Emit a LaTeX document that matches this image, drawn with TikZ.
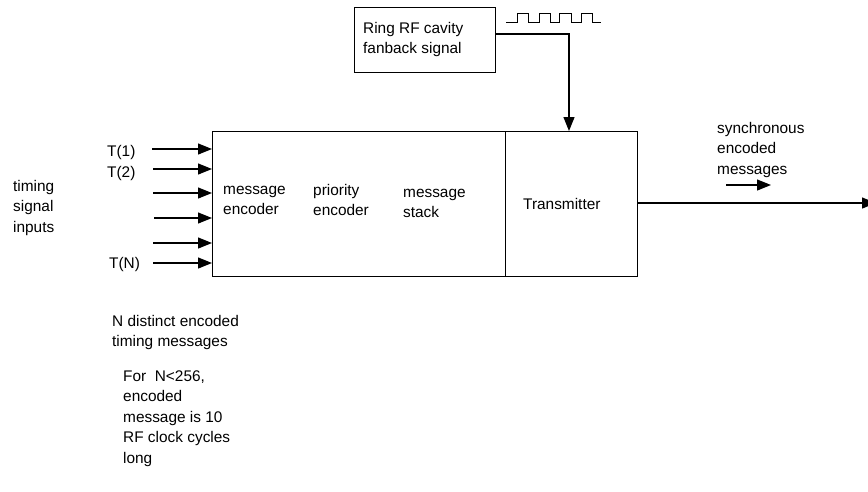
\documentclass[tikz,border=0pt]{standalone}
\usepackage{fontspec}
\setmainfont{Liberation Sans}
\usetikzlibrary{arrows.meta}
\begin{document}
\begin{tikzpicture}[x=1pt,y=-1pt,
  box/.style={draw,line width=1.2pt,inner sep=0pt,anchor=north west},
  lbl/.style={anchor=base west,inner sep=0pt,font=\fontsize{15.4}{20.5}\selectfont,align=left},
  arr/.style={line width=1.2pt,-{Triangle[length=14pt,width=11pt]}},
  wire/.style={line width=1.2pt},
  wave/.style={line width=1pt}]
\useasboundingbox (0,0) rectangle (868,491);
\clip (0,0) rectangle (868,491);

% boxes
\node[box,minimum width=141pt,minimum height=65pt] (ring) at (354,7) {};
\node[box,minimum width=293pt,minimum height=145pt] (enc) at (212,131) {};
\node[box,minimum width=132pt,minimum height=145pt] (tx) at (505,131) {};

% texts (base anchor = baseline of last line)
\node[lbl] (ringt) at (363,53.5) {Ring RF cavity\\fanback signal};
\node[lbl] (txt) at (523,209) {Transmitter};
\node[lbl] (me) at (223,214.5) {message\\encoder};
\node[lbl] (pe) at (313,215.5) {priority\\encoder};
\node[lbl] (ms) at (403,217.5) {message\\stack};
\node[lbl] (sync) at (717,174) {synchronous\\encoded\\messages};
\node[lbl] (tsi) at (13,232) {timing\\signal\\inputs};
\node[lbl] (t1) at (107,156) {T(1)};
\node[lbl] (t2) at (107,177) {T(2)};
\node[lbl] (tn) at (109,268) {T(N)};
\node[lbl] (nd) at (112,346.5) {N distinct encoded\\timing messages};
\node[lbl] (note) at (123,463) {For\ \ N<256,\\encoded\\message is 10\\RF clock cycles\\long};

% input arrows
\coordinate (i1) at (152,149);
\coordinate (i2) at (153,169);
\coordinate (i3) at (153,193);
\coordinate (i4) at (154,218);
\coordinate (i5) at (153,243);
\coordinate (i6) at (153,263);
\foreach \c in {i1,i2,i3,i4,i5,i6}
  \draw[arr] (\c) -- (\c -| enc.west);

% RF fanback connector
\coordinate (rfj) at (569,34);
\draw[arr] (ring.east |- rfj) -| (rfj |- tx.north);

% square wave
\draw[wave] (506,22) -- (517,22) -- (517,13) -- (528,13) -- (528,22) -- (539,22)
  -- (539,13) -- (550,13) -- (550,22) -- (559,22) -- (559,13) -- (571,13)
  -- (571,22) -- (581,22) -- (581,13) -- (592,13) -- (592,22) -- (601,22);

% output
\coordinate (out) at (876,203);
\draw[arr] (tx.east |- out) -- (out);
\coordinate (sa) at (726,185);
\coordinate (sb) at (771,185);
\draw[arr] (sa) -- (sb);
\end{tikzpicture}
\end{document}
